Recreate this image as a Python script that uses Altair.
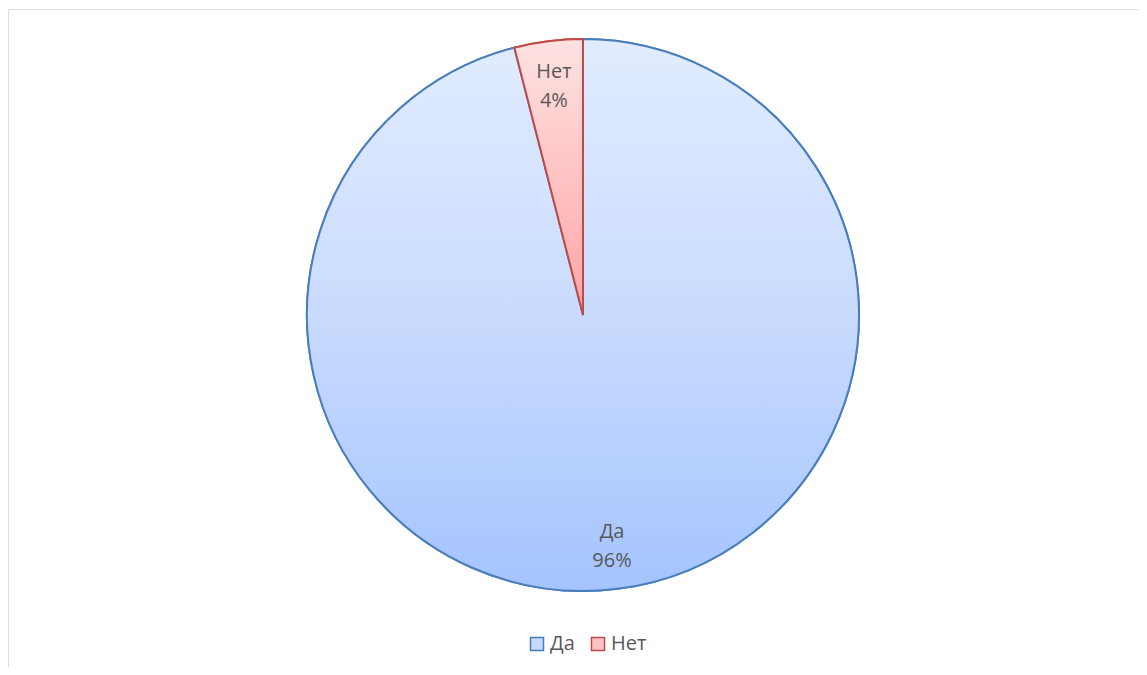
import altair as alt
import pandas as pd

categories = ["Да", "Нет"]
values = [96, 4]
labels = ["Да\n96%", "Нет\n4%"]

df = pd.DataFrame({"cat": categories, "val": values,
                   "label": [l.split("\n") for l in labels], "order": [0, 1]})

CX, CY, R = 575, 306, 276

fills = {
    "Да": alt.Gradient(gradient="linear", x1=0, y1=0, x2=0, y2=1,
                       stops=[alt.GradientStop(color="#e1ecff", offset=0),
                              alt.GradientStop(color="#c9dbfe", offset=0.5),
                              alt.GradientStop(color="#a4c4ff", offset=1)]),
    "Нет": alt.Gradient(gradient="linear", x1=0, y1=0, x2=0, y2=1,
                        stops=[alt.GradientStop(color="#ffe2e2", offset=0),
                               alt.GradientStop(color="#ffa4a4", offset=1)]),
}
strokes = {"Да": "#4a7ebb", "Нет": "#be4b48"}

theta_scale = alt.Scale(domain=[0, sum(values)])

base = alt.Chart(df).transform_stack(
    stack="val", groupby=[], as_=["v0", "v1"], sort=[alt.SortField("order")]
).transform_calculate(mid="(datum.v0 + datum.v1) / 2").encode(
    x=alt.value(CX), y=alt.value(CY),
)

legend_layer = base.mark_arc(radius=R, strokeWidth=2).encode(
    theta=alt.Theta("v0:Q", scale=theta_scale), theta2="v1:Q",
    color=alt.Color("cat:N", sort=categories,
                    scale=alt.Scale(domain=categories, range=["#c6d9ff", "#ffc2c2"]),
                    legend=alt.Legend(title=None, orient="none", direction="horizontal",
                                      legendX=519, legendY=625, symbolType="square",
                                      symbolSize=170, symbolStrokeWidth=1.5,
                                      labelFontSize=20, labelColor="#595959",
                                      labelFont="Open Sans", columnPadding=13,
                                      labelOffset=3)),
    stroke=alt.Stroke("cat:N", sort=categories,
                      scale=alt.Scale(domain=categories, range=[strokes["Да"], strokes["Нет"]])),
)

layers = [legend_layer]
for c in categories:
    layers.append(
        base.mark_arc(radius=R, fill=fills[c], stroke=strokes[c], strokeWidth=2).encode(
            theta=alt.Theta("v0:Q", scale=theta_scale), theta2="v1:Q",
        ).transform_filter(alt.datum.cat == c)
    )

text = base.mark_text(radius=232, dy=-13, fontSize=20, color="#595959", font="Open Sans",
                      lineHeight=29).encode(
    theta=alt.Theta("mid:Q", scale=theta_scale),
    text="label",
)
layers.append(text)

chart = alt.layer(*layers).properties(
    width=1145, height=675,
    padding={"left": 0, "top": 1, "right": -14, "bottom": -17},
).configure_view(stroke="#d9d9d9", strokeWidth=1.5).configure(background="white")

chart.save("out.html", embed_options={"renderer": "svg", "actions": False})
